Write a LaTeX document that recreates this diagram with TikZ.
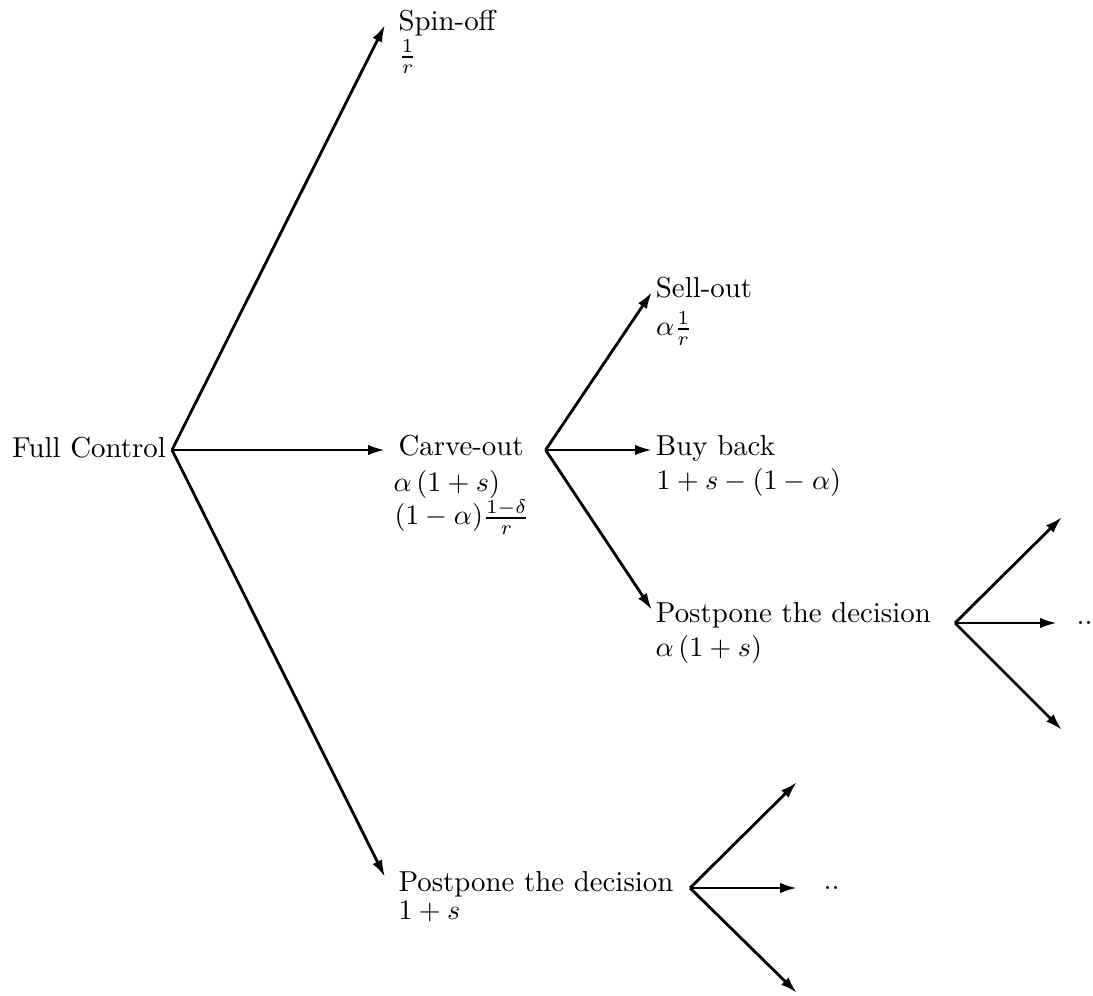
\documentclass[tikz,border=0pt]{standalone}
\usepackage{tikz}
\usetikzlibrary{arrows.meta,positioning}

\begin{document}
\begin{tikzpicture}[x=0.3552pt,y=-0.3552pt,>={Latex[length=6pt,width=3.7pt]},
  every node/.style={font=\fontsize{10.25pt}{12pt}\selectfont},
  choice/.style={anchor=west,inner ysep=0pt,text height=6.9pt,text depth=2.7pt},
  payoff/.style={anchor=base west,inner sep=0pt},
  branch/.style={->,line width=1pt}]
\useasboundingbox (0,0) rectangle (1093,996);
% first decision
\node[choice,anchor=east,inner xsep=2pt,text depth=1.3pt] (fc) at (172,450) {Full Control};
\node[choice,inner xsep=4.6pt] (spin) at (385,25) {Spin-off};
\node[choice,inner xsep=4.6pt] (carve) at (385,450) {Carve-out};
\node[choice,inner xsep=4.6pt] (post) at (385,886) {Postpone the decision};
\node[payoff] (spinv) at (398,64) {$\frac{1}{r}$};
\node[payoff] (carvev) at (393,492) {$\alpha\left(1+s\right)$};
\node[payoff] (carvew) at (394,525) {$(1-\alpha)\frac{1-\delta}{r}$};
\node[payoff] (postv) at (398,920) {$1+s$};
\draw[branch] (fc.east) -- (spin.west);
\draw[branch] (fc.east) -- (carve.west);
\draw[branch] (fc.east) -- ([yshift=3.2pt]post.west);
% after the carve-out
\coordinate[right=3pt of carve] (c1);
\node[choice,inner xsep=1.2pt] (sell) at (652,292) {Sell-out};
\node[choice,inner xsep=1.2pt] (buy) at (652,450) {Buy back};
\node[choice,inner xsep=1.2pt] (wait) at (652,617) {Postpone the decision};
\node[payoff] (sellv) at (655.5,336) {$\alpha\frac{1}{r}$};
\node[payoff] (buyv) at (656,490) {$1+s-(1-\alpha)$};
\node[payoff] (waitv) at (655,657) {$\alpha\left(1+s\right)$};
\draw[branch] (c1) -- (sell.west);
\draw[branch] (c1) -- (buy.west);
\draw[branch] (c1) -- ([yshift=2.5pt]wait.west);
% later decisions
\coordinate (c2) at (955,623);
\coordinate (e1) at (1062,517);
\coordinate (e2) at (1057,623);
\coordinate (e3) at (1062,730);
\coordinate (c3) at (690,888);
\coordinate (f1) at (797,782);
\coordinate (f2) at (797,888);
\coordinate (f3) at (797,993);
\foreach \e in {e1,e2,e3} \draw[branch] (c2) -- (\e);
\foreach \f in {f1,f2,f3} \draw[branch] (c3) -- (\f);
\node[payoff] (more1) at (1076,625) {..};
\node[payoff] (more2) at (823,890) {..};
\end{tikzpicture}
\end{document}
